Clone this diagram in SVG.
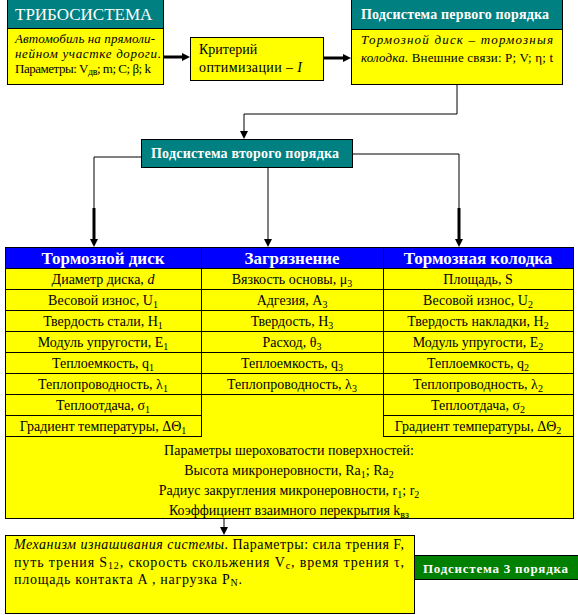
<svg xmlns="http://www.w3.org/2000/svg" width="578" height="615" viewBox="0 0 578 615" font-family="'Liberation Serif','Times New Roman',serif">
<style>
text{font-family:"Liberation Serif","Times New Roman",serif;fill:#000}
.bx{stroke:#000;stroke-width:1}
.y{fill:#ffff00}
.tl{fill:#008080}
.bl{fill:#0000ff}
.gr{fill:#008000}
.w{fill:#fff}
.b{font-weight:bold}
.i{font-style:italic}
.s13{font-size:13px}
.s14{font-size:14px}
.hd{font-size:17px;font-weight:bold;fill:#fff;text-anchor:middle}
.c{text-anchor:middle;font-size:14px}
.sub{font-size:10px}
.ln{fill:none;stroke:#000;stroke-width:1}
.thk{fill:none;stroke:#000;stroke-width:3}
</style>
<defs>
<marker id="ah" markerUnits="userSpaceOnUse" markerWidth="10" markerHeight="10" refX="0" refY="4" orient="auto" overflow="visible"><path d="M0,0 L8,4 L0,8 Z" fill="#000"/></marker>
</defs>
<g id="connectors">
<path class="thk" d="M164,57 H182" marker-end="url(#ah)"/>
<path class="thk" d="M324,58 H343" marker-end="url(#ah)"/>
<path class="ln" d="M457,85 V114 H244 V131" marker-end="url(#ah)"/>
<path class="ln" d="M141,157 H94 V239" marker-end="url(#ah)"/>
<path class="thk" d="M94,208 V239"/>
<path class="ln" d="M268,168 V239" marker-end="url(#ah)"/>
<path class="ln" d="M353,154 H459 V239" marker-end="url(#ah)"/>
<path class="thk" d="M459,208 V239"/>
<path class="ln" d="M224,519 V527" marker-end="url(#ah)"/>
</g>
<g id="tribosystem">
<rect class="bx tl" x="7.5" y="-0.5" width="156" height="29"/>
<rect class="bx y" x="7.5" y="28.5" width="156" height="56"/>
<text x="15" y="20" style="font-size:17px;fill:#fff">ТРИБОСИСТЕМА</text>
<text class="s13 i" x="15" y="43" textLength="140" lengthAdjust="spacing">Автомобиль на прямоли-</text>
<text class="s13 i" x="15" y="58" textLength="146" lengthAdjust="spacing">нейном участке дороги.</text>
<text class="s13" x="15" y="73" textLength="136" lengthAdjust="spacing">Параметры: V<tspan class="sub" dy="2">дв</tspan><tspan dy="-2">; m; C; β; k</tspan></text>
</g>
<g id="criterion">
<rect class="bx y" x="190.5" y="37.5" width="133" height="43"/>
<text class="s14" x="199" y="54">Критерий</text>
<text class="s14" x="199" y="72" textLength="103" lengthAdjust="spacing">оптимизации – <tspan class="i">I</tspan></text>
</g>
<g id="subsystem1">
<rect class="bx tl" x="351.5" y="-0.5" width="211" height="30"/>
<rect class="bx y" x="351.5" y="29.5" width="211" height="55"/>
<text class="b" x="361" y="19" style="font-size:14px;fill:#fff" textLength="188" lengthAdjust="spacing">Подсистема первого порядка</text>
<text class="s13 i" x="361" y="44" textLength="192" lengthAdjust="spacing">Тормозной диск – тормозныя</text>
<text class="s13" x="361" y="62" textLength="192" lengthAdjust="spacing"><tspan class="i">колодка</tspan>. Внешние связи: P; V; η; t</text>
</g>
<g id="subsystem2">
<rect class="bx tl" x="141.5" y="139.5" width="211" height="28"/>
<text class="b" x="151" y="158" style="font-size:14px;fill:#fff" textLength="188" lengthAdjust="spacing">Подсистема второго порядка</text>
</g>
<g id="table">
<rect class="bx y" x="5.5" y="247.5" width="568" height="271"/>
<rect class="bl" x="6" y="248" width="567" height="20"/>
<path class="ln" d="M5,268.5 H574 M201.5,247 V436 M383.5,247 V436 M5,436.5 H202 M383,436.5 H574 M5,289.5 H574 M5,310.5 H574 M5,331.5 H574 M5,352.5 H574 M5,373.5 H574 M5,394.5 H574 M5,415.5 H202 M383,415.5 H574"/>
<text class="hd" x="103" y="264">Тормозной диск</text>
<text class="hd" x="292" y="264">Загрязнение</text>
<text class="hd" x="478" y="264">Тормозная колодка</text>
<text class="c" x="103" y="284">Диаметр диска, <tspan class="i">d</tspan></text>
<text class="c" x="103" y="305">Весовой износ, U<tspan class="sub" dy="3">1</tspan></text>
<text class="c" x="103" y="326">Твердость стали, H<tspan class="sub" dy="3">1</tspan></text>
<text class="c" x="103" y="347">Модуль упругости, E<tspan class="sub" dy="3">1</tspan></text>
<text class="c" x="103" y="368">Теплоемкость, q<tspan class="sub" dy="3">1</tspan></text>
<text class="c" x="103" y="389">Теплопроводность, λ<tspan class="sub" dy="3">1</tspan></text>
<text class="c" x="103" y="410">Теплоотдача, σ<tspan class="sub" dy="3">1</tspan></text>
<text class="c" x="103" y="431">Градиент температуры, ΔΘ<tspan class="sub" dy="3">1</tspan></text>
<text class="c" x="292" y="284">Вязкость основы, μ<tspan class="sub" dy="3">3</tspan></text>
<text class="c" x="292" y="305">Адгезия, A<tspan class="sub" dy="3">3</tspan></text>
<text class="c" x="292" y="326">Твердость, H<tspan class="sub" dy="3">3</tspan></text>
<text class="c" x="292" y="347">Расход, θ<tspan class="sub" dy="3">3</tspan></text>
<text class="c" x="292" y="368">Теплоемкость, q<tspan class="sub" dy="3">3</tspan></text>
<text class="c" x="292" y="389">Теплопроводность, λ<tspan class="sub" dy="3">3</tspan></text>
<text class="c" x="478" y="284">Площадь, S</text>
<text class="c" x="478" y="305">Весовой износ, U<tspan class="sub" dy="3">2</tspan></text>
<text class="c" x="478" y="326">Твердость накладки, H<tspan class="sub" dy="3">2</tspan></text>
<text class="c" x="478" y="347">Модуль упругости, E<tspan class="sub" dy="3">2</tspan></text>
<text class="c" x="478" y="368">Теплоемкость, q<tspan class="sub" dy="3">2</tspan></text>
<text class="c" x="478" y="389">Теплопроводность, λ<tspan class="sub" dy="3">2</tspan></text>
<text class="c" x="478" y="410">Теплоотдача, σ<tspan class="sub" dy="3">2</tspan></text>
<text class="c" x="478" y="431">Градиент температуры, ΔΘ<tspan class="sub" dy="3">2</tspan></text>
<text class="c" x="289" y="455">Параметры шероховатости поверхностей:</text>
<text class="c" x="289" y="475">Высота микронеровности, Ra<tspan class="sub" dy="3">1</tspan><tspan dy="-3">; Ra</tspan><tspan class="sub" dy="3">2</tspan></text>
<text class="c" x="289" y="495">Радиус закругления микронеровности, r<tspan class="sub" dy="3">1</tspan><tspan dy="-3">; r</tspan><tspan class="sub" dy="3">2</tspan></text>
<text class="c" x="289" y="515">Коэффициент взаимного перекрытия k<tspan class="sub" dy="3">вз</tspan></text>
</g>
<g id="mechanism">
<rect class="bx y" x="5.5" y="535.5" width="409" height="78"/>
<text class="s14" x="14" y="549" textLength="390" lengthAdjust="spacing"><tspan class="i">Механизм изнашивания системы</tspan>. Параметры: сила трения F,</text>
<text class="s14" x="14" y="567" textLength="390" lengthAdjust="spacing">путь трения S<tspan class="sub" dy="2">12</tspan><tspan dy="-2">, скорость скольжения V</tspan><tspan class="sub" dy="2">c</tspan><tspan dy="-2">, время трения τ,</tspan></text>
<text class="s14" x="14" y="584" textLength="228" lengthAdjust="spacing">площадь контакта A , нагрузка P<tspan class="sub" dy="2">N</tspan><tspan dy="-2">.</tspan></text>
</g>
<g id="subsystem3">
<rect class="bx gr" x="414.5" y="555.5" width="164" height="24"/>
<text class="b" x="423" y="573" style="font-size:13px;fill:#fff" textLength="145" lengthAdjust="spacing">Подсистема 3 порядка</text>
</g>
</svg>
